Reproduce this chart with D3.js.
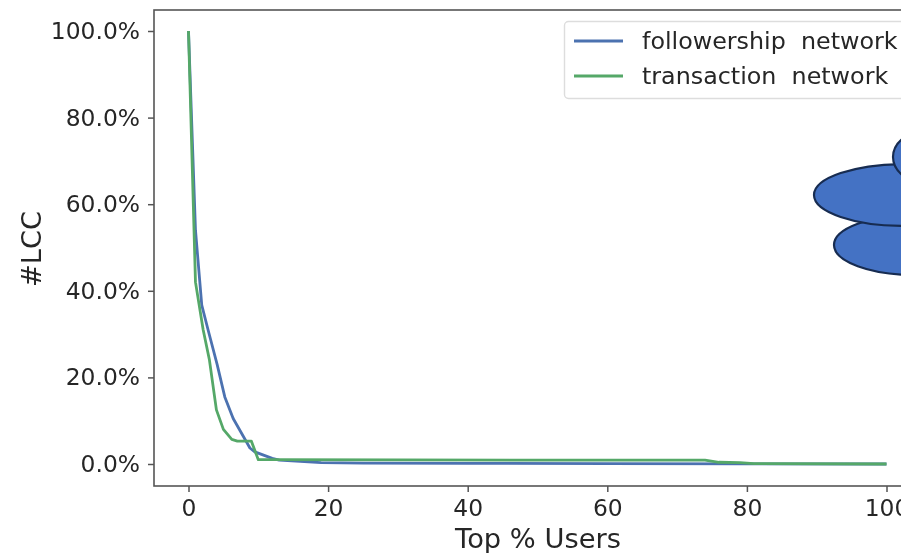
<!DOCTYPE html>
<html>
<head>
<meta charset="utf-8">
<script src="https://cdn.jsdelivr.net/npm/d3@7"></script>
<style>
  html, body { margin: 0; padding: 0; background: #fff; overflow: hidden; }
  svg { display: block; font-family: "DejaVu Sans", sans-serif; filter: blur(0.55px); }
  .tick text { font-family: "DejaVu Sans", sans-serif; font-size: 23.4px; fill: #262626; }
</style>
</head>
<body>
<div id="chart"></div>
<script>
const followX = [0, 1, 1.9, 2.8, 4.1, 5.2, 6.4, 7.6, 8.8, 9.5, 12, 13, 19, 25, 40, 60, 80, 100];
const followY = [100, 54, 36.7, 31, 23, 15.5, 10.5, 7.1, 3.7, 2.8, 1.3, 0.9, 0.3, 0.2, 0.15, 0.1, 0.05, 0];
const transX = [0, 1, 2.1, 3, 4, 5, 6.2, 7, 9, 10, 12, 30, 50, 74, 76, 79, 81, 100];
const transY = [100, 42, 31, 24, 12.5, 8, 5.7, 5.3, 5.3, 1, 1, 0.95, 0.9, 0.9, 0.4, 0.3, 0.1, 0];
const xTicks = [0, 20, 40, 60, 80, 100];
const yTicks = [0, 20, 40, 60, 80, 100];
const seriesNames = ["followership  network", "transaction  network"];
const seriesColors = ["#4c72b0", "#55a868"];

const width = 901;
const height = 553;
const frame = { left: 154, top: 10, bottom: 486, right: 922 };

const svg = d3.select("#chart").append("svg")
  .attr("width", width)
  .attr("height", height);

const x = d3.scaleLinear().domain([0, 100]).range([188.5, 886.5]);
const y = d3.scaleLinear().domain([0, 100]).range([464, 31]);

// Frame
svg.append("rect")
  .attr("x", frame.left)
  .attr("y", frame.top)
  .attr("width", frame.right - frame.left)
  .attr("height", frame.bottom - frame.top)
  .attr("fill", "#fff")
  .attr("stroke", "#555")
  .attr("stroke-width", 1.6);

// Axes
const xAxis = svg.append("g")
  .attr("transform", `translate(0,${frame.bottom})`)
  .call(d3.axisBottom(x).tickValues(xTicks).tickFormat(d3.format("d")).tickSize(6).tickPadding(7));

const yAxis = svg.append("g")
  .attr("transform", `translate(${frame.left},0)`)
  .call(d3.axisLeft(y).tickValues(yTicks).tickFormat((d) => d.toFixed(1) + "%").tickSize(6).tickPadding(8));

[xAxis, yAxis].forEach((g) => {
  g.select(".domain").remove();
  g.selectAll(".tick line").attr("stroke", "#555").attr("stroke-width", 1.5);
});

svg.append("text")
  .attr("x", 538)
  .attr("y", 548)
  .attr("text-anchor", "middle")
  .attr("font-size", 27.3)
  .attr("fill", "#262626")
  .text("Top % Users");

svg.append("text")
  .attr("transform", "translate(41,249) rotate(-90)")
  .attr("text-anchor", "middle")
  .attr("font-size", 27.3)
  .attr("fill", "#262626")
  .text("#LCC");

// Lines
const line = d3.line().x((d) => x(d[0])).y((d) => y(d[1]));

[d3.zip(followX, followY), d3.zip(transX, transY)].forEach((pts, i) => {
  svg.append("path")
    .datum(pts)
    .attr("fill", "none")
    .attr("stroke", seriesColors[i])
    .attr("stroke-width", 2.8)
    .attr("stroke-linejoin", "round")
    .attr("d", line);
});

// Legend
svg.append("rect")
  .attr("x", 564.5)
  .attr("y", 21.5)
  .attr("width", 360)
  .attr("height", 77)
  .attr("rx", 4)
  .attr("fill", "#fff")
  .attr("stroke", "#ddd")
  .attr("stroke-width", 1.4);

seriesNames.forEach((name, i) => {
  const ly = 41 + i * 35;
  svg.append("line")
    .attr("x1", 574).attr("x2", 623)
    .attr("y1", ly).attr("y2", ly)
    .attr("stroke", seriesColors[i])
    .attr("stroke-width", 2.8);
  svg.append("text")
    .attr("x", 642)
    .attr("y", ly + 8)
    .attr("font-size", 23.8)
    .attr("fill", "#262626")
    .style("white-space", "pre")
    .text(name);
});

// Cloud shape pasted over the plot, runs off the right edge
const cloud = svg.append("g")
  .attr("fill", "#4472c4")
  .attr("stroke", "#172c51")
  .attr("stroke-width", 2.2);
cloud.append("ellipse").attr("cx", 915).attr("cy", 245).attr("rx", 81).attr("ry", 30);
cloud.append("ellipse").attr("cx", 905).attr("cy", 195).attr("rx", 91).attr("ry", 31);
cloud.append("ellipse").attr("cx", 939).attr("cy", 157).attr("rx", 46).attr("ry", 30);
</script>
</body>
</html>
